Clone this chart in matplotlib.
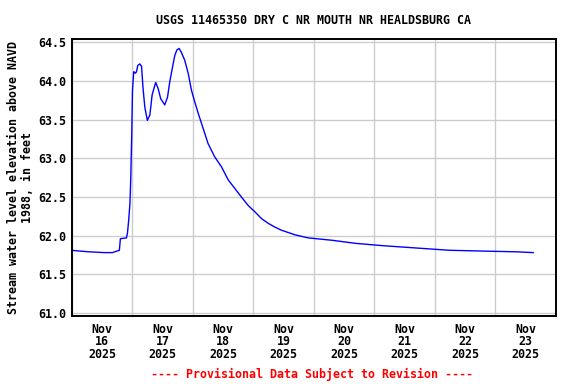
import numpy as np
import pandas as pd
import matplotlib
matplotlib.use("Agg")
import matplotlib.pyplot as plt
import matplotlib.dates as mdates

# hours since 2025-11-16 00:00 and gage elevation (ft)
hours = [0.0, 3.0, 7.0, 12.9, 16.0, 18.8, 19.2, 21.6, 22.0, 22.5, 23.0, 23.3,
         23.7, 24.0, 24.5, 25.2, 25.6, 26.1, 26.9, 27.6, 28.2, 28.9, 29.9,
         30.9, 31.8, 33.2, 34.2, 35.2, 36.8, 37.9, 38.8, 39.9, 40.8, 41.6,
         42.5, 43.4, 44.7, 46.1, 47.4, 48.7, 50.1, 51.4, 52.7, 54.0, 56.6,
         59.3, 62.0, 64.6, 67.2, 69.9, 72.5, 75.2, 77.8, 80.5, 83.1, 88.5,
         93.8, 103.1, 112.5, 123.2, 136.5, 149.8, 163.2, 176.6, 183.0]
stage = [61.81, 61.80, 61.79, 61.78, 61.78, 61.81, 61.96, 61.97, 62.03, 62.20,
         62.42, 62.72, 63.30, 63.88, 64.12, 64.10, 64.12, 64.20, 64.22, 64.19,
         63.90, 63.66, 63.49, 63.56, 63.82, 63.98, 63.90, 63.77, 63.69, 63.79,
         63.99, 64.18, 64.33, 64.40, 64.42, 64.37, 64.27, 64.10, 63.88, 63.73,
         63.58, 63.45, 63.32, 63.19, 63.02, 62.89, 62.72, 62.61, 62.50, 62.39,
         62.31, 62.22, 62.16, 62.11, 62.07, 62.01, 61.97, 61.94, 61.90, 61.87,
         61.84, 61.81, 61.80, 61.79, 61.78]

y_ticks = [61.0, 61.5, 62.0, 62.5, 63.0, 63.5, 64.0, 64.5]
start = pd.Timestamp("2025-11-16")
end = pd.Timestamp("2025-11-24")

title = "USGS 11465350 DRY C NR MOUTH NR HEALDSBURG CA"
ylabel = "Stream water level elevation above NAVD\n1988, in feet"
footer = "---- Provisional Data Subject to Revision ----"

times = start + pd.to_timedelta(hours, unit="h")

mono = {"family": "DejaVu Sans Mono", "weight": "bold", "size": 8.4}

fig = plt.figure(figsize=(5.76, 3.84), dpi=100)
ax = fig.add_axes([0.125, 0.177, 0.840, 0.721])

ax.plot(times, stage, color="#0000ff", linewidth=1.0)

ax.set_xlim(start, end)
ax.set_ylim(60.96, 64.54)
ax.set_yticks(y_ticks)
ax.set_yticklabels([f"{v:.1f}" for v in y_ticks], fontdict=mono)

# gridlines at midnight, labels at noon
ax.xaxis.set_major_locator(mdates.DayLocator())
ax.xaxis.set_major_formatter(plt.NullFormatter())
ax.xaxis.set_minor_locator(mdates.HourLocator(byhour=[12]))
ax.xaxis.set_minor_formatter(mdates.DateFormatter("%b\n%d\n%Y"))
for lab in ax.xaxis.get_minorticklabels():
    lab.set_fontfamily("DejaVu Sans Mono")
    lab.set_fontweight("bold")
    lab.set_fontsize(8.4)
    lab.set_linespacing(0.95)

ax.tick_params(which="both", length=0, pad=4)
ax.tick_params(axis="x", which="minor", pad=5)
ax.grid(True, which="major", color="#cccccc", linewidth=1.0)
ax.set_axisbelow(True)
for s in ax.spines.values():
    s.set_linewidth(1.4)
    s.set_color("black")

ax.set_title(title, fontdict=mono, pad=11)
ax.set_ylabel(ylabel, fontdict=mono, labelpad=3, linespacing=1.15)
fig.text(0.541, 0.008, footer, color="red", ha="center", va="bottom", **mono)

fig.savefig("out.png", dpi=100)
